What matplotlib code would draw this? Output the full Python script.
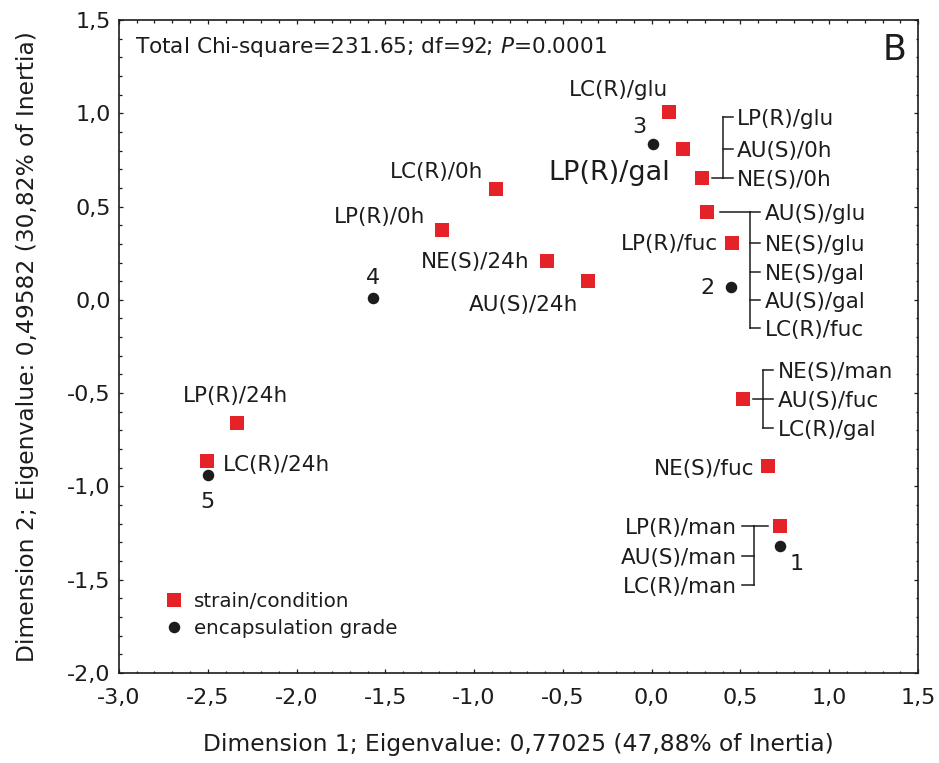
import matplotlib
matplotlib.use('Agg')
import matplotlib.pyplot as plt
import matplotlib.transforms as mtransforms
from matplotlib.ticker import MultipleLocator, FuncFormatter
from matplotlib.lines import Line2D

plt.rcParams['font.family'] = ['DejaVu Sans']
plt.rcParams['mathtext.fontset'] = 'dejavusans'

# strain/condition coordinates (Dimension 1, Dimension 2)
strain_x = [0.097, 0.176, 0.283, 0.311, 0.452, -0.877, -1.181, -0.590, -0.359,
            -2.336, -2.505, 0.514, 0.654, 0.722]
strain_y = [1.007, 0.809, 0.654, 0.472, 0.305, 0.595, 0.375, 0.209, 0.102,
            -0.659, -0.863, -0.531, -0.890, -1.211]
strain_labels = [
    ["LC(R)/glu"],
    ["LP(R)/gal"],
    ["LP(R)/glu", "AU(S)/0h", "NE(S)/0h"],
    ["AU(S)/glu", "NE(S)/glu", "NE(S)/gal", "AU(S)/gal", "LC(R)/fuc"],
    ["LP(R)/fuc"],
    ["LC(R)/0h"],
    ["LP(R)/0h"],
    ["NE(S)/24h"],
    ["AU(S)/24h"],
    ["LP(R)/24h"],
    ["LC(R)/24h"],
    ["NE(S)/man", "AU(S)/fuc", "LC(R)/gal"],
    ["NE(S)/fuc"],
    ["LP(R)/man", "AU(S)/man", "LC(R)/man"],
]

# encapsulation grade coordinates
grade_x = [0.722, 0.446, 0.007, -1.570, -2.499]
grade_y = [-1.318, 0.070, 0.836, 0.011, -0.938]
grade_labels = ["1", "2", "3", "4", "5"]

RED = '#e42228'
DARK = '#1c1c1c'

fig = plt.figure(figsize=(9.39, 7.63), dpi=100)
ax = fig.add_axes([0.1267, 0.118, 0.851, 0.8558])

ax.plot(strain_x, strain_y, 's', color=RED, markersize=9.4, markeredgewidth=0,
        linestyle='none', label='strain/condition')
ax.plot(grade_x, grade_y, 'o', color=DARK, markersize=8.3, markeredgewidth=0,
        linestyle='none', label='encapsulation grade')

ax.set_xlim(-3.0, 1.5)
ax.set_ylim(-2.0, 1.5)


def off(x, y):
    # pixel offsets (image coords) around a data point
    return fig.dpi_scale_trans + mtransforms.ScaledTranslation(x, y, ax.transData)


def put(x, y, dx, dy, s, ha, size=15.5):
    ax.text(dx / 100, -dy / 100, s, transform=off(x, y), ha=ha, va='center',
            fontsize=size, color=DARK)


def seg(x, y, pts):
    xs = [p[0] / 100 for p in pts]
    ys = [-p[1] / 100 for p in pts]
    ax.add_line(Line2D(xs, ys, transform=off(x, y), color=DARK, lw=1.1))


# single labels: index -> (dx, dy, ha, size)
single = {0: (-50, -22, 'center', 15.5), 1: (-13, 24, 'right', 19.5),
          4: (-14, 1, 'right', 15.5), 5: (-59, -17, 'center', 15.5),
          6: (-62, -13, 'center', 15.5), 7: (-17, 1, 'right', 15.5),
          8: (-10, 24, 'right', 15.5), 9: (-1, -27, 'center', 15.5),
          10: (16, 4, 'left', 15.5), 12: (-13, 3, 'right', 15.5)}
for i, (dx, dy, ha, size) in single.items():
    put(strain_x[i], strain_y[i], dx, dy, strain_labels[i][0], ha, size)

# bracketed groups: index -> (stem start, vertical x, tick end, text x, label dys)
brackets = {2: (10, 21, 31, 35, [-61, -29, 0]),
            3: (13, 43, 53, 58, [0, 31, 60, 88, 116]),
            11: (10, 20, 30, 35, [-29, 0, 29]),
            13: (-12, -26, -38, -43, [0, 30, 59])}
for i, (s0, vx, te, tx, dys) in brackets.items():
    x, y = strain_x[i], strain_y[i]
    seg(x, y, [(s0, 0), (vx, 0)])
    seg(x, y, [(vx, min(dys + [0])), (vx, max(dys + [0]))])
    ha = 'left' if tx > 0 else 'right'
    for dy, lab in zip(dys, strain_labels[i]):
        seg(x, y, [(vx, dy), (te, dy)])
        put(x, y, tx, dy + 2, lab, ha)

# grade numbers
grade_pos = [(17, 18, 'center'), (-16, 1, 'right'), (-14, -17, 'center'),
             (0, -20, 'center'), (0, 27, 'center')]
for gx, gy, lab, (dx, dy, ha) in zip(grade_x, grade_y, grade_labels, grade_pos):
    put(gx, gy, dx, dy, lab, ha, 16)

# axes styling
fmt = FuncFormatter(lambda v, p: f'{0.0 if abs(v) < 1e-9 else v:.1f}'.replace('.', ','))
ax.xaxis.set_major_locator(MultipleLocator(0.5))
ax.yaxis.set_major_locator(MultipleLocator(0.5))
ax.xaxis.set_minor_locator(MultipleLocator(0.1))
ax.yaxis.set_minor_locator(MultipleLocator(0.1))
ax.xaxis.set_major_formatter(fmt)
ax.yaxis.set_major_formatter(fmt)
ax.tick_params(which='both', direction='in', top=True, right=True, width=0.9,
               color=DARK)
ax.tick_params(which='major', length=3.2, labelsize=16, labelcolor=DARK)
ax.tick_params(which='minor', length=1.8)
ax.tick_params(axis='x', which='major', pad=11)
ax.tick_params(axis='y', which='major', pad=6)
for sp in ax.spines.values():
    sp.set_linewidth(1.2)
    sp.set_color(DARK)

ax.set_xlabel('Dimension 1; Eigenvalue: 0,77025 (47,88% of Inertia)',
              fontsize=16.8, color=DARK, va='center')
ax.xaxis.set_label_coords(0.5, -0.110)
ax.set_ylabel('Dimension 2; Eigenvalue: 0,49582 (30,82% of Inertia)',
              fontsize=16.8, color=DARK, va='center')
ax.yaxis.set_label_coords(-0.115, 0.5)

ax.text(0.020, 0.958, r'Total Chi-square=231.65; df=92; $\mathit{P}$=0.0001',
        transform=ax.transAxes, fontsize=15.6, color=DARK, ha='left', va='center')
ax.text(0.971, 0.954, 'B', transform=ax.transAxes, fontsize=25, color=DARK,
        ha='center', va='center')

ax.legend(loc='center left', bbox_to_anchor=(0.056, 0.089), frameon=False,
          fontsize=14.3, handlelength=1.0, handletextpad=0.5, borderpad=0,
          borderaxespad=0, labelspacing=0.42, labelcolor=DARK)

fig.savefig('out.png', dpi=100)
